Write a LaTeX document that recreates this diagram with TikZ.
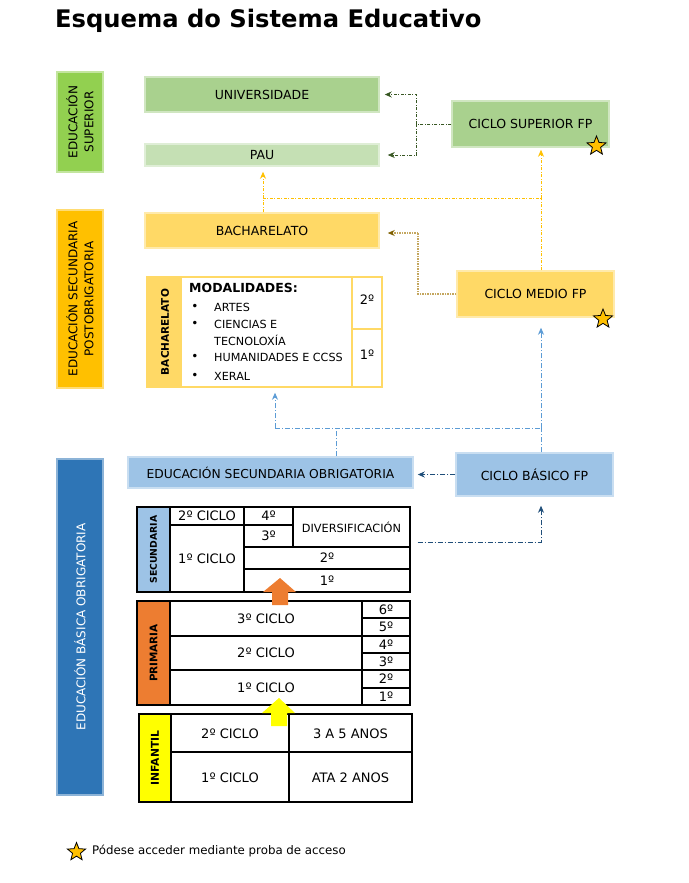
\documentclass[tikz,border=0pt]{standalone}
\usepackage{fontspec}
\setmainfont{DejaVu Sans}
\usetikzlibrary{arrows.meta, shapes.geometric}

\definecolor{supgreen}{HTML}{92D050}
\definecolor{supbox}{HTML}{A9D18E}
\definecolor{paubox}{HTML}{C5E0B4}
\definecolor{postyel}{HTML}{FFC000}
\definecolor{bachyel}{HTML}{FFD966}
\definecolor{basblue}{HTML}{2E75B6}
\definecolor{esoblue}{HTML}{9DC3E6}
\definecolor{primorange}{HTML}{ED7D31}
\definecolor{infyel}{HTML}{FFFF00}
\definecolor{linkgreen}{HTML}{385723}
\definecolor{linkolive}{HTML}{C4A65E}
\definecolor{tipolive}{HTML}{7F6000}
\definecolor{linkblue}{HTML}{5B9BD5}
\definecolor{linkdkblue}{HTML}{1F4E79}

\tikzset{
  level box/.style={
    fill=#1,
    draw=#1!55!white,
    line width=1.5pt,
    inner sep=0pt,
    align=center,
    font=\fontsize{12.5}{14}\selectfont,
  },
  side bar/.style={
    fill=#1,
    draw=#1!55!white,
    line width=1.5pt,
    rotate=90,
    minimum height=46pt,
    inner sep=0pt,
    align=center,
    font=\fontsize{12}{16}\selectfont,
  },
  grid line/.style={draw=black, line width=1.2pt},
  cell text/.style={inner sep=0pt, font=\fontsize{13}{15}\selectfont},
  tab label/.style={rotate=90, inner sep=0pt, font=\bfseries\fontsize{10}{12}\selectfont},
  green conn/.style={draw=linkgreen, line width=0.8pt, dash pattern=on 3pt off 1.5pt on 1pt off 1.5pt},
  yellow conn/.style={draw=postyel, line width=0.8pt, dash pattern=on 3pt off 1.5pt on 1pt off 1.5pt},
  olive conn/.style={draw=linkolive, line width=1.3pt, dash pattern=on 1.5pt off 1pt},
  blue conn/.style={draw=linkblue, line width=0.7pt, dash pattern=on 5pt off 2pt on 1pt off 2pt},
  dkblue conn/.style={draw=linkdkblue, line width=0.8pt, dash pattern=on 5pt off 2pt on 1pt off 2pt},
  arrow head/.style={-{Stealth[length=7pt, width=6pt]}},
  olive head/.style={-{Stealth[length=7pt, width=6pt, color=tipolive]}},
  access star/.style={star, star points=5, star point ratio=2.3, draw=black, fill=postyel,
    line width=0.8pt, minimum size=20pt, inner sep=0pt},
}

\begin{document}
\begin{tikzpicture}[x=1pt, y=-1pt]
  \useasboundingbox (0,0) rectangle (688,883);

  \node[anchor=base west, inner sep=0pt, font=\bfseries\fontsize{24.2}{28}\selectfont] (title) at (55,28) {Esquema do Sistema Educativo};

  % lateral bars
  \node[side bar=supgreen, minimum width=100pt] (supbar) at (80,122) {EDUCACIÓN\\SUPERIOR};
  \node[side bar=postyel, minimum width=178pt] (postbar) at (80,299) {EDUCACIÓN SECUNDARIA\\POSTOBRIGATORIA};
  \node[side bar=basblue, minimum width=336pt, text=white] (basbar) at (80,627) {EDUCACIÓN BÁSICA OBRIGATORIA};

  % level boxes
  \node[level box=supbox, minimum width=234pt, minimum height=35pt] (univ) at (262,94.5) {UNIVERSIDADE};
  \node[level box=paubox, minimum width=234pt, minimum height=22pt] (pau) at (262,155) {PAU};
  \node[level box=supbox, minimum width=157pt, minimum height=46pt] (csfp) at (530.5,124) {CICLO SUPERIOR FP};
  \node[level box=bachyel, minimum width=234pt, minimum height=35pt] (bach) at (262,230.5) {BACHARELATO};
  \node[level box=bachyel, minimum width=157pt, minimum height=46pt] (cmfp) at (535.5,294) {CICLO MEDIO FP};
  \node[level box=esoblue, minimum width=285pt, minimum height=31pt, font=\fontsize{12.3}{14}\selectfont] (eso) at (270.5,472.5) {EDUCACIÓN SECUNDARIA OBRIGATORIA};
  \node[level box=esoblue, minimum width=157pt, minimum height=43pt] (cbfp) at (534.5,474.5) {CICLO BÁSICO FP};

  \node[access star] (starcs) at (596.5,146) {};
  \node[access star] (starcm) at (603,319) {};

  % bacharelato table
  \fill[bachyel] (147,277) rectangle (182,387);
  \node[draw=bachyel, line width=1.5pt, minimum width=235pt, minimum height=110pt, inner sep=0pt] (bachtab) at (264.5,332) {};
  \draw[bachyel, line width=1.5pt] (352,277) -- (352,387) (352,329) -- (382,329);
  \node[tab label, font=\bfseries\fontsize{10.5}{12}\selectfont] (bachlab) at (165,332) {BACHARELATO};
  \node[anchor=west, inner sep=0pt, font=\bfseries\fontsize{12.5}{14}\selectfont] (modal) at (189,288) {MODALIDADES:};
  \foreach \y/\t in {307/ARTES, 324/CIENCIAS E, 357/HUMANIDADES E CCSS, 376/XERAL} {
    \node[inner sep=0pt, font=\fontsize{12}{13}\selectfont] (bul\y) at (195,\y) {•};
    \node[anchor=west, inner sep=0pt, font=\fontsize{11.2}{13}\selectfont] (mod\y) at (214,\y) {\t};
  }
  \node[anchor=west, inner sep=0pt, font=\fontsize{11.2}{13}\selectfont] (mod340) at (214,340) {TECNOLOXÍA};
  \node[cell text] (bachtwo) at (367,300) {2º};
  \node[cell text] (bachone) at (367,355) {1º};

  % secundaria table
  \fill[esoblue] (137,507) rectangle (170,592);
  \node[grid line, minimum width=273pt, minimum height=85pt, inner sep=0pt] (sectab) at (273.5,549.5) {};
  \draw[grid line] (170,507) -- (170,592) (244,507) -- (244,592) (293,507) -- (293,547)
    (170,525) -- (293,525) (244,547) -- (410,547) (244,569) -- (410,569);
  \node[tab label, font=\bfseries\fontsize{9.3}{11}\selectfont] (seclab) at (153.5,549.5) {SECUNDARIA};
  \node[cell text] (secc2) at (207,516) {2º CICLO};
  \node[cell text] (secc1) at (207,559) {1º CICLO};
  \node[cell text] (sec4) at (268.5,516) {4º};
  \node[cell text] (sec3) at (268.5,536) {3º};
  \node[cell text, font=\fontsize{11.3}{13}\selectfont] (divers) at (351.5,527) {DIVERSIFICACIÓN};
  \node[cell text] (sec2) at (327,558) {2º};
  \node[cell text] (sec1) at (327,580.5) {1º};

  % primaria table
  \fill[primorange] (137,601) rectangle (170,705);
  \node[grid line, minimum width=273pt, minimum height=104pt, inner sep=0pt] (primtab) at (273.5,653) {};
  \draw[grid line] (170,601) -- (170,705) (362,601) -- (362,705)
    (170,636) -- (410,636) (170,670) -- (410,670)
    (362,618) -- (410,618) (362,653) -- (410,653) (362,688) -- (410,688);
  \node[tab label, font=\bfseries\fontsize{10.4}{12}\selectfont] (primlab) at (153.5,653) {PRIMARIA};
  \node[cell text] (primc3) at (266,618.5) {3º CICLO};
  \node[cell text] (primc2) at (266,653) {2º CICLO};
  \node[cell text] (primc1) at (266,687.5) {1º CICLO};
  \foreach \n/\y in {6/609.5, 5/627, 4/644.5, 3/661.5, 2/679, 1/696.5}
    \node[cell text] (prim\n) at (386,\y) {{\n}º};

  % infantil table
  \fill[infyel] (139,714) rectangle (171,802);
  \node[grid line, minimum width=273pt, minimum height=88pt, inner sep=0pt] (inftab) at (275.5,758) {};
  \draw[grid line] (171,714) -- (171,802) (289,714) -- (289,802) (171,752) -- (412,752);
  \node[tab label, font=\bfseries\fontsize{10.8}{12}\selectfont] (inflab) at (155,758) {INFANTIL};
  \node[cell text] (infc2) at (230,734) {2º CICLO};
  \node[cell text] (infc1) at (230,777.5) {1º CICLO};
  \node[cell text] (infage2) at (350.5,734) {3 A 5 ANOS};
  \node[cell text] (infage1) at (350.5,777.5) {ATA 2 ANOS};

  % step arrows
  \fill[primorange] (280,578) -- (296,592) -- (288,592) -- (288,605) -- (272,605) -- (272,592) -- (263,592) -- cycle;
  \fill[infyel] (279,698) -- (295,713) -- (287,713) -- (287,726) -- (271,726) -- (271,713) -- (262,713) -- cycle;

  % connectors
  \coordinate (gj) at (416,124);
  \draw[green conn] (csfp.west) -- (gj);
  \draw[green conn, arrow head, shorten >=5pt] (gj) |- (univ.east);
  \draw[green conn, arrow head, shorten >=8pt] (gj) |- (pau.east);

  \coordinate (yl) at (263,198);
  \coordinate (yr) at (541,198);
  \draw[yellow conn] (yl |- bach.north) -- (yl) -- (yr);
  \draw[yellow conn, arrow head, shorten >=5pt] (yl) -- (yl |- pau.south);
  \draw[yellow conn] (yr |- cmfp.north) -- (yr);
  \draw[yellow conn, arrow head, shorten >=2pt] (yr) -- (yr |- csfp.south);

  \coordinate (oj) at (418,233);
  \draw[olive conn] (cmfp.west) -| (oj);
  \draw[olive conn, olive head, shorten >=8pt] (oj) -- (oj -| bach.east);

  \coordinate (bl) at (275,428);
  \coordinate (bm) at (336,428);
  \coordinate (br) at (541,428);
  \draw[blue conn] (bm |- eso.north) -- (bm);
  \draw[blue conn] (bl) -- (br);
  \draw[blue conn, arrow head, shorten >=5pt] (bl) -- (bl |- bachtab.south);
  \draw[blue conn] (br |- cbfp.north) -- (br);
  \draw[blue conn, arrow head, shorten >=10pt] (br) -- (br |- cmfp.south);

  \draw[dkblue conn, arrow head, shorten >=4pt] (cbfp.west) -- (cbfp.west -| eso.east);
  \coordinate (dj) at (541,542);
  \draw[dkblue conn, arrow head, shorten <=7pt, shorten >=9pt] (dj -| sectab.east) -- (dj) -- (dj |- cbfp.south);

  % legend
  \node[access star, minimum size=19pt] (legstar) at (76.5,852) {};
  \node[anchor=west, inner sep=0pt, font=\fontsize{11.8}{13}\selectfont] (legtext) at (92,851) {Pódese acceder mediante proba de acceso};
\end{tikzpicture}
\end{document}
